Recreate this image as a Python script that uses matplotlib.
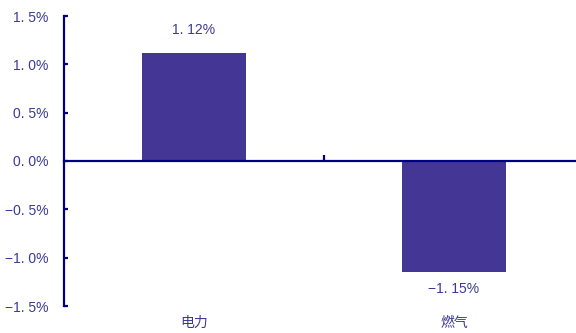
import matplotlib.pyplot as plt
import numpy as np

plt.rcParams['font.family'] = ['Noto Sans CJK SC', 'DejaVu Sans']
plt.rcParams['axes.unicode_minus'] = True

categories = ['电力', '燃气']
values = [1.12, -1.15]
value_labels = ['1. 12%', '\u22121. 15%']
yticks = [-1.5, -1.0, -0.5, 0.0, 0.5, 1.0, 1.5]
ytick_labels = ['\u22121. 5%', '\u22121. 0%', '\u22120. 5%', '0. 0%', '0. 5%', '1. 0%', '1. 5%']

navy = '#000080'
bar_color = '#433694'
text_color = '#3a3a96'
num_font = ['Liberation Sans', 'DejaVu Sans']

fig = plt.figure(figsize=(5.76, 3.33), dpi=100)
# axes runs a little past the right edge, like the original
ax = fig.add_axes([64/576, 27/333, 520/576, 290/333])

x = np.arange(len(categories))
ax.bar(x, values, width=0.4, color=bar_color, zorder=2)

ax.set_xlim(-0.5, 1.5)
ax.set_ylim(-1.5, 1.5)
ax.set_yticks(yticks)
ax.set_yticklabels(ytick_labels, fontsize=10, color=text_color, family=num_font)

for s in ['top', 'right']:
    ax.spines[s].set_visible(False)
ax.spines['left'].set_color(navy)
ax.spines['left'].set_linewidth(1.6)
ax.spines['bottom'].set_color(navy)
ax.spines['bottom'].set_linewidth(1.6)
ax.spines['bottom'].set_position(('data', 0))
ax.spines['bottom'].set_zorder(3)

ax.tick_params(axis='y', direction='in', length=3, width=1.6, color=navy, pad=11)
ax.set_xticks([0.5])
ax.set_xticklabels([])
ax.tick_params(axis='x', direction='in', length=4, width=1.6, color=navy)

for xi, v, lab in zip(x, values, value_labels):
    if v >= 0:
        ax.annotate(lab, (xi, v), xytext=(0, 11), textcoords='offset points',
                    ha='center', va='bottom', fontsize=10, color=text_color,
                    family=num_font)
    else:
        ax.annotate(lab, (xi, v), xytext=(0, -7), textcoords='offset points',
                    ha='center', va='top', fontsize=10, color=text_color,
                    family=num_font)

for xi, c in zip(x, categories):
    ax.annotate(c, (xi, -1.5), xytext=(0, -7), textcoords='offset points',
                ha='center', va='top', fontsize=10, color=text_color)

fig.savefig('out.png', dpi=100)
